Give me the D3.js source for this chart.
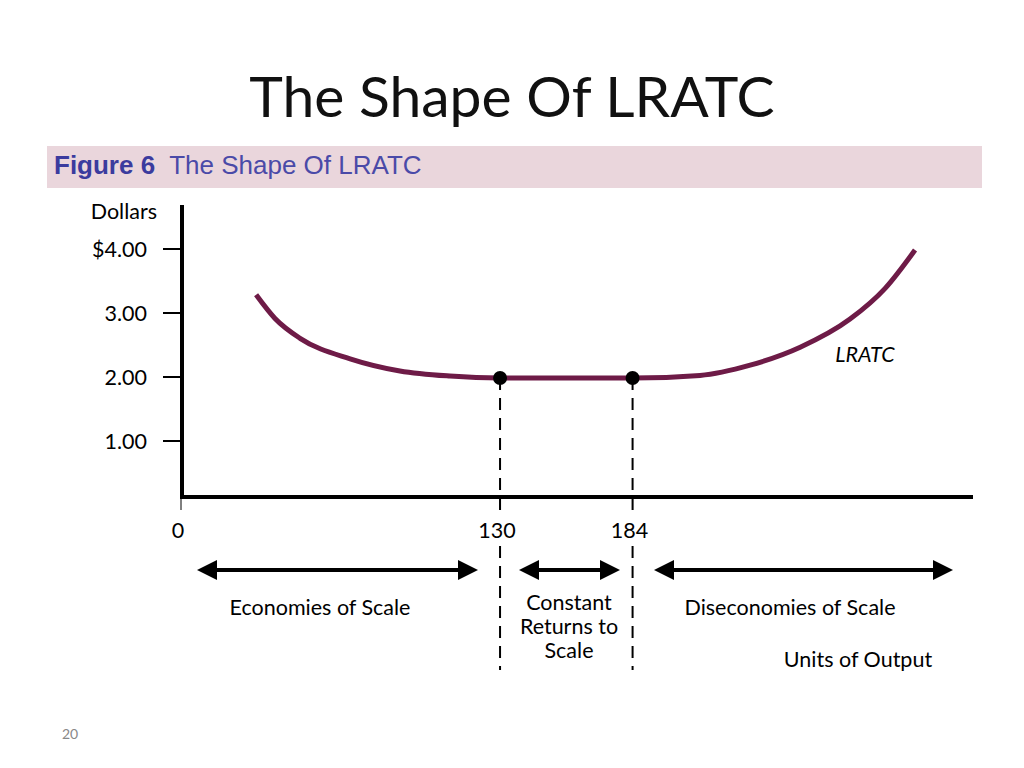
<!DOCTYPE html>
<html><head><meta charset="utf-8">
<script src="https://cdn.jsdelivr.net/npm/d3@7"></script>
<style>body{margin:0;background:#fff}</style></head>
<body><svg id="c" width="1024" height="768"></svg>
<script>
const yTicks=[1,2,3,4];
const yTickLabels=["1.00","2.00","3.00","$4.00"];
const xTicks=[0,130,184];
const curveX=[30.6,38.3,48.5,68.9,89.2,109.6,130,184,211.5,231.9,252.3,272.6,286.9,299.1];
const curveY=[3.30,2.93,2.62,2.30,2.11,2.03,2.0,2.0,2.04,2.20,2.48,2.92,3.40,4.0];
const dots=[130,184];

const svg=d3.select("#c");
const x=d3.scaleLinear().domain([0,322.3]).range([181,972]);
const y=d3.scaleLinear().domain([0,4]).range([506,250]);
const f="Lato, 'Open Sans', sans-serif";
const fs=21.5;

svg.append("text").attr("x",512).attr("y",117).attr("text-anchor","middle")
 .attr("font-family",f).attr("font-size",57).attr("fill","#111").text("The Shape Of LRATC");
svg.append("rect").attr("x",47).attr("y",146).attr("width",935).attr("height",42).attr("fill","#ead6dc");
const ft=svg.append("text").attr("x",54).attr("y",174).attr("font-family","'Liberation Sans',Arial,sans-serif").attr("font-size",26).attr("fill","#3b3b9e");
ft.append("tspan").attr("font-weight","bold").text("Figure 6");
ft.append("tspan").attr("dx",14).attr("fill","#4a4aa8").text("The Shape Of LRATC");

// axes
svg.append("line").attr("x1",182).attr("x2",182).attr("y1",205).attr("y2",497).attr("stroke","#000").attr("stroke-width",4);
svg.append("line").attr("x1",180).attr("x2",973).attr("y1",497).attr("y2",497).attr("stroke","#000").attr("stroke-width",4);
yTicks.forEach((t,i)=>{
 svg.append("line").attr("x1",163).attr("x2",181).attr("y1",y(t)-1).attr("y2",y(t)-1).attr("stroke","#000").attr("stroke-width",2);
 svg.append("text").attr("x",147).attr("y",y(t)+7).attr("text-anchor","end").attr("font-family",f).attr("font-size",fs).text(yTickLabels[i]);
});
svg.append("text").attr("x",157).attr("y",219).attr("text-anchor","end").attr("font-family",f).attr("font-size",fs).text("Dollars");
xTicks.forEach(t=>{
 svg.append("line").attr("x1",x(t)).attr("x2",x(t)).attr("y1",497).attr("y2",510).attr("stroke","#000").attr("stroke-width",1);
 svg.append("text").attr("x",x(t)-3).attr("y",538).attr("text-anchor","middle").attr("font-family",f).attr("font-size",fs).text(t);
});

// dashed
dots.forEach(d=>{
 [[y(2),512],[546,670]].forEach(([a,b])=>
 svg.append("line").attr("x1",x(d)).attr("x2",x(d)).attr("y1",a).attr("y2",b).attr("stroke","#000").attr("stroke-width",2).attr("stroke-dasharray","12,8"));
});
// curve
const pts=curveX.map((v,i)=>[x(v),y(curveY[i])]);
svg.append("path").attr("d",d3.line().curve(d3.curveMonotoneX)(pts)).attr("fill","none").attr("stroke","#6e1b47").attr("stroke-width",5);
dots.forEach(d=>svg.append("circle").attr("cx",x(d)).attr("cy",y(2)).attr("r",7).attr("fill","#000"));
svg.append("text").attr("x",865).attr("y",362).attr("text-anchor","middle").attr("font-family",f).attr("font-style","italic").attr("font-size",fs).text("LRATC");

// arrows
const defs=svg.append("defs");
defs.append("marker").attr("id","ah").attr("viewBox","0 0 10 10").attr("refX",8).attr("refY",5).attr("markerWidth",5).attr("markerHeight",5).attr("orient","auto-start-reverse")
 .append("path").attr("d","M0,0L10,5L0,10z").attr("fill","#000");
[[193,482],[515,624],[650,957]].forEach(([a,b])=>{
 svg.append("line").attr("x1",a+8).attr("x2",b-8).attr("y1",570).attr("y2",570).attr("stroke","#000").attr("stroke-width",4)
  .attr("marker-start","url(#ah)").attr("marker-end","url(#ah)");
});
const lab=(t,xx,yy)=>svg.append("text").attr("x",xx).attr("y",yy).attr("text-anchor","middle").attr("font-family",f).attr("font-size",fs).text(t);
lab("Economies of Scale",320,615);
lab("Constant",569,610);lab("Returns to",569,634);lab("Scale",569,658);
lab("Diseconomies of Scale",790,615);
lab("Units of Output",858,667);
svg.append("text").attr("x",70).attr("y",739).attr("text-anchor","middle").attr("font-family",f).attr("font-size",14).attr("fill","#888").text("20");
</script></body></html>
